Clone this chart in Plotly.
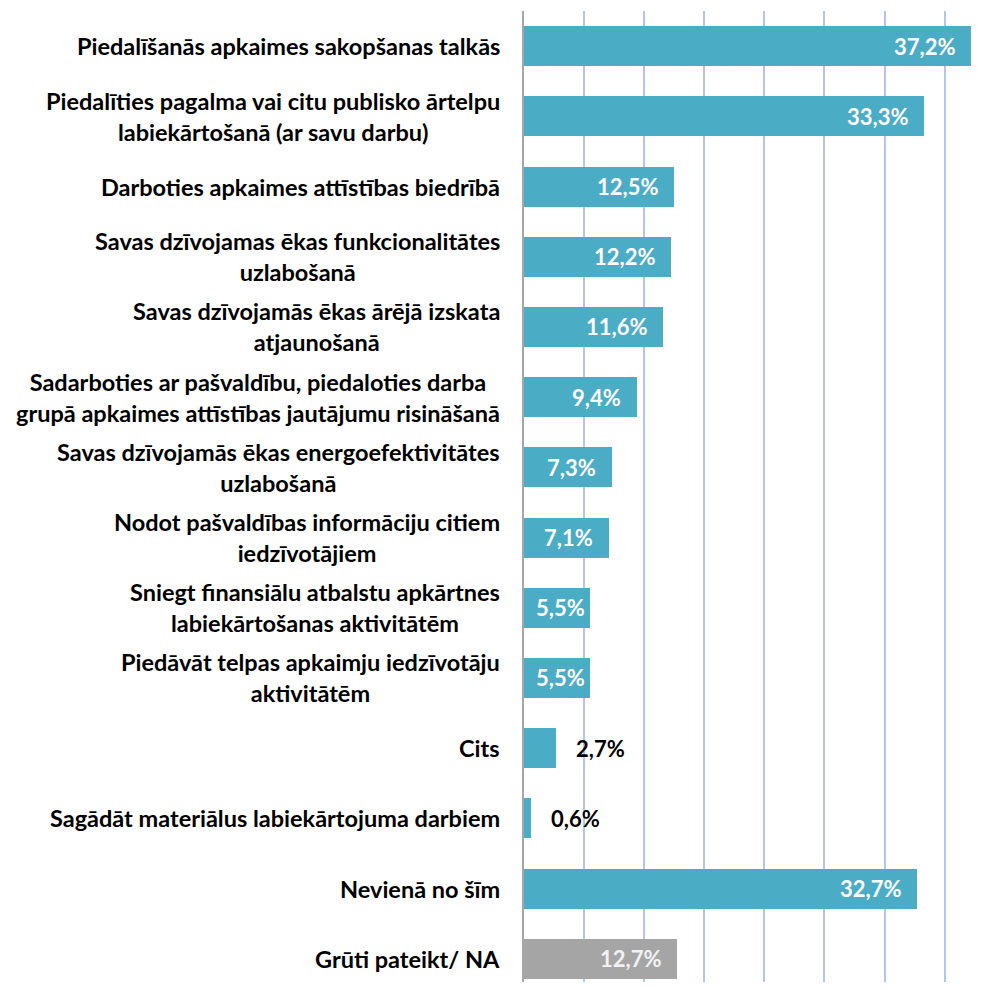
import plotly.graph_objects as go

categories = [
    "Piedalīšanās apkaimes sakopšanas talkās",
    "Piedalīties pagalma vai citu publisko ārtelpu<br>labiekārtošanā (ar savu darbu)",
    "Darboties apkaimes attīstības biedrībā",
    "Savas dzīvojamas ēkas funkcionalitātes<br>uzlabošanā",
    "Savas dzīvojamās ēkas ārējā izskata<br>atjaunošanā",
    "Sadarboties ar pašvaldību, piedaloties darba<br>grupā apkaimes attīstības jautājumu risināšanā",
    "Savas dzīvojamās ēkas energoefektivitātes<br>uzlabošanā",
    "Nodot pašvaldības informāciju citiem<br>iedzīvotājiem",
    "Sniegt finansiālu atbalstu apkārtnes<br>labiekārtošanas aktivitātēm",
    "Piedāvāt telpas apkaimju iedzīvotāju<br>aktivitātēm",
    "Cits",
    "Sagādāt materiālus labiekārtojuma darbiem",
    "Nevienā no šīm",
    "Grūti pateikt/ NA",
]
values = [37.2, 33.3, 12.5, 12.2, 11.6, 9.4, 7.3, 7.1, 5.5, 5.5, 2.7, 0.6, 32.7, 12.7]
labels = [f"{v:.1f}".replace(".", ",") + "%" for v in values]

TEAL = "#4BACC6"
GRAY = "#A5A5A5"
colors = [GRAY if c.startswith("Grūti") else TEAL for c in categories]
idx = list(range(len(categories)))

FONT = "Lato"

fig = go.Figure()
fig.add_trace(go.Bar(
    y=idx, x=values, orientation="h",
    marker=dict(color=colors, line=dict(width=0)),
    width=0.57, hoverinfo="skip",
))

annotations = []
for i, (c, v, lab) in enumerate(zip(categories, values, labels)):
    annotations.append(dict(
        x=0, xref="paper", y=i, yref="y", text=c, showarrow=False,
        xanchor="right", yanchor="middle", align="center", xshift=-22,
        font=dict(family=FONT, size=23.5, color="#000000", weight="bold"),
    ))
    lab_color = "#F2F2F2" if colors[i] == GRAY else "#FFFFFF"
    if v < 4:
        annotations.append(dict(
            x=v, xref="x", y=i, yref="y", text=lab, showarrow=False,
            xanchor="left", yanchor="middle", xshift=18,
            font=dict(family=FONT, size=22, color="#000000", weight="bold"),
        ))
    elif v < 6.5:
        annotations.append(dict(
            x=0, xref="x", y=i, yref="y", text=lab, showarrow=False,
            xanchor="left", yanchor="middle", xshift=10,
            font=dict(family=FONT, size=22, color=lab_color, weight="bold"),
        ))
    else:
        annotations.append(dict(
            x=v, xref="x", y=i, yref="y", text=lab, showarrow=False,
            xanchor="right", yanchor="middle", xshift=-14,
            font=dict(family=FONT, size=22, color=lab_color, weight="bold"),
        ))

fig.update_layout(
    width=979, height=974,
    margin=dict(l=516, r=0, t=3, b=0, pad=0),
    paper_bgcolor="white", plot_bgcolor="white",
    showlegend=False,
    bargap=0,
    annotations=annotations,
    xaxis=dict(
        range=[0, 38.52], dtick=5, tick0=0,
        showgrid=True, gridcolor="#B4C5EC", gridwidth=1.5,
        showticklabels=False, zeroline=False, showline=False, ticks="",
    ),
    yaxis=dict(
        range=[13.33, -0.5],
        showticklabels=False, showgrid=False, zeroline=False,
        showline=True, linecolor="#A6A6A6", linewidth=1.5, ticks="",
    ),
)

fig.write_html("out.html")
